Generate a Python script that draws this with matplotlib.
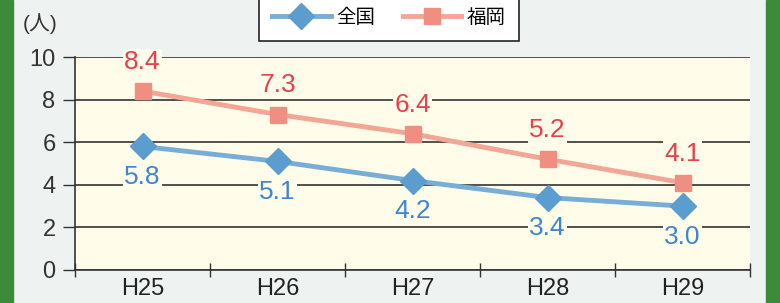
import matplotlib
matplotlib.use('Agg')
import matplotlib.pyplot as plt
import matplotlib.patches as mpatches
from matplotlib.ticker import FixedLocator
import numpy as np

plt.rcParams['font.family'] = ['Liberation Sans', 'Noto Sans CJK JP', 'DejaVu Sans']

years = ['H25', 'H26', 'H27', 'H28', 'H29']
zenkoku = [5.8, 5.1, 4.2, 3.4, 3.0]
fukuoka = [8.4, 7.3, 6.4, 5.2, 4.1]
zen_label = '全国'
fuk_label = '福岡'

fig = plt.figure(figsize=(7.8, 3.03), dpi=100)
fig.patch.set_facecolor('#eef3f2')
# green frame on both sides
fig.patches.append(mpatches.Rectangle((0, 0), 13/780, 1, transform=fig.transFigure,
                                      color='#3d8b3a', zorder=0))
fig.patches.append(mpatches.Rectangle((766/780, 0), 14/780, 1, transform=fig.transFigure,
                                      color='#3d8b3a', zorder=0))

plot_bg = '#fffcea'
ax = fig.add_axes([75/780, 33/303, 675/780, 213/303])
ax.set_facecolor(plot_bg)
x = np.arange(len(years))

blue_line, blue_mark = '#78aed6', '#5b9dcf'
pink_line, pink_mark = '#f3a596', '#f08e82'

ax.plot(x, zenkoku, color=blue_line, lw=3.5, marker='D', ms=13,
        mfc=blue_mark, mec=blue_mark, label=zen_label, zorder=3)
ax.plot(x, fukuoka, color=pink_line, lw=3.5, marker='s', ms=12,
        mfc=pink_mark, mec=pink_mark, label=fuk_label, zorder=3)

for i, v in enumerate(fukuoka):
    ax.annotate(f'{v:.1f}', (i, v), xytext=(0, 21), textcoords='offset points',
                ha='center', va='center', fontsize=19, color='#e4404e', zorder=4,
                bbox=dict(boxstyle='square,pad=0.05', fc=plot_bg, ec='none'))
for i, v in enumerate(zenkoku):
    ax.annotate(f'{v:.1f}', (i, v), xytext=(0, -22), textcoords='offset points',
                ha='center', va='center', fontsize=19, color='#3d85d4', zorder=4,
                bbox=dict(boxstyle='square,pad=0.05', fc=plot_bg, ec='none'))

ax.set_xlim(-0.5, 4.5)
ax.set_ylim(0, 10)
ax.set_yticks(range(0, 11, 2))
ax.tick_params(axis='y', direction='out', length=9, width=1, labelsize=17, pad=5, colors='#333')
ax.set_xticks(x)
ax.set_xticklabels(years)
ax.tick_params(axis='x', which='major', length=0, labelsize=17, pad=6, colors='#222')
ax.xaxis.set_minor_locator(FixedLocator(np.arange(-0.5, 5, 1)))
ax.tick_params(axis='x', which='minor', direction='inout', length=10, width=1, color='#333')
ax.grid(axis='y', color='#333', lw=1.2, zorder=1)
ax.set_axisbelow(True)
for s in ['top', 'right']:
    ax.spines[s].set_visible(False)
for s in ['left', 'bottom']:
    ax.spines[s].set_color('#333')
    ax.spines[s].set_linewidth(1.2)

fig.text(23/780, 1 - 24/303, '(人)', fontsize=15, color='#333', va='center', ha='left')

leg = fig.legend(loc='center', bbox_to_anchor=(389/780, 1 - 18/303), ncol=2,
                 frameon=True, fancybox=False, edgecolor='#222', framealpha=1,
                 fontsize=14, handlelength=3.0, columnspacing=1.4, handletextpad=0.3,
                 borderpad=0.7)
leg.get_frame().set_linewidth(1.2)

plt.savefig('out.png', dpi=100, facecolor=fig.get_facecolor())
